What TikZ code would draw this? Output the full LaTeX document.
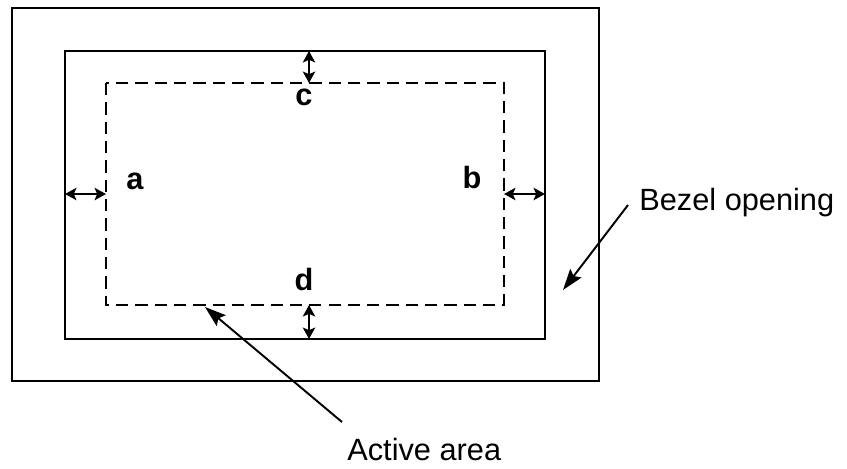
\documentclass[tikz,border=0pt]{standalone}
\usepackage{fontspec}
\setmainfont{Liberation Sans}
\usetikzlibrary{arrows.meta}
\begin{document}
\begin{tikzpicture}[x=0.02cm,y=-0.02cm,
    frame/.style={line width=0.8pt},
    dim/.style={{Stealth[length=6.5pt,width=7pt,inset=1.5pt]}-{Stealth[length=6.5pt,width=7pt,inset=1.5pt]}, line width=1.3pt},
    pointer/.style={-{Stealth[length=12pt,width=8pt,inset=2pt]}, line width=1.1pt},
    letter/.style={font=\fontsize{17.5}{20}\selectfont\bfseries, anchor=base, inner sep=0pt},
    caption/.style={font=\fontsize{17.5}{20}\selectfont, anchor=base west, inner sep=0pt}]
    \useasboundingbox (0,0) rectangle (847,468);

    % Outer frame
    \draw[frame] (12,8) rectangle (599,381);
    % Bezel opening
    \draw[frame] (65,51) rectangle (545,339);
    % Active area
    \draw[frame, dash pattern=on 7pt off 4pt] (106,83) rectangle (504,305);

    % Ends of the dimension arrows
    \coordinate (open-top) at (309,51);
    \coordinate (act-top) at (309,83);
    \coordinate (open-bot) at (309,339);
    \coordinate (act-bot) at (309,305);
    \coordinate (open-left) at (65,194);
    \coordinate (act-left) at (106,194);
    \coordinate (open-right) at (545,194);
    \coordinate (act-right) at (504,194);

    \draw[dim] (open-top) -- (act-top);
    \draw[dim] (act-bot) -- (open-bot);
    \draw[dim] (open-left) -- (act-left);
    \draw[dim] (act-right) -- (open-right);

    \node[letter] (a) at (135,189) {a};
    \node[letter] (b) at (472,188) {b};
    \node[letter] (c) at (304,105) {c};
    \node[letter] (d) at (304,290) {d};

    % Captions
    \node[caption] (bezel) at (639,210) {Bezel opening};
    \node[caption] (active) at (347,460) {Active area};

    \coordinate (bezel-tail) at (628,205);
    \coordinate (bezel-head) at (563,290);
    \coordinate (active-tail) at (342,422);
    \coordinate (active-head) at (205,307);

    \draw[pointer] (bezel-tail) -- (bezel-head);
    \draw[pointer] (active-tail) -- (active-head);

\end{tikzpicture}
\end{document}
